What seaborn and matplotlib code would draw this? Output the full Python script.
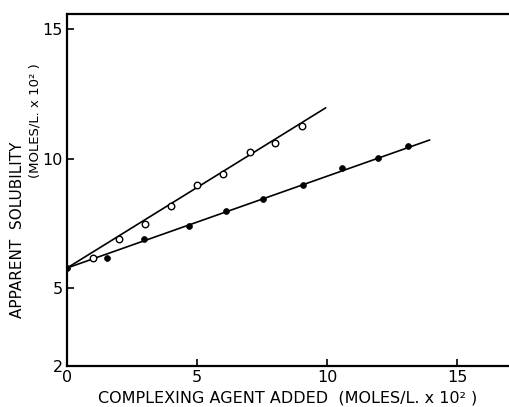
import matplotlib
matplotlib.use("Agg")
import matplotlib.pyplot as plt
import seaborn as sns
import pandas as pd

# Data (x: complexing agent added, y: apparent solubility)
open_x = [1.0, 2.0, 3.0, 4.0, 5.0, 6.0, 7.05, 8.0, 9.05]
open_y = [6.17, 6.90, 7.49, 8.19, 8.97, 9.40, 10.27, 10.61, 11.26]
filled_x = [0.0, 1.53, 2.96, 4.69, 6.12, 7.54, 9.08, 10.56, 11.97, 13.12]
filled_y = [5.78, 6.17, 6.89, 7.39, 7.99, 8.45, 8.97, 9.62, 10.01, 10.47]
line_open_x = [0.0, 9.95]
line_open_y = [5.78, 11.96]
line_filled_x = [0.0, 13.95]
line_filled_y = [5.78, 10.72]
x_ticks = [0, 5, 10, 15]
y_ticks = [2, 5, 10, 15]

sns.set_style("ticks")
plt.rcParams['font.family'] = ['DejaVu Sans']

fig = plt.figure(figsize=(5.09, 4.07), dpi=100)
ax = fig.add_axes([67 / 509, 1 - 366 / 407, 1 - 67 / 509, (366 - 14) / 407])

sns.lineplot(x=line_open_x, y=line_open_y, ax=ax, color="black", linewidth=1.2)
sns.lineplot(x=line_filled_x, y=line_filled_y, ax=ax, color="black", linewidth=1.2)

df_open = pd.DataFrame({"x": open_x, "y": open_y})
df_filled = pd.DataFrame({"x": filled_x, "y": filled_y})
sns.scatterplot(data=df_open, x="x", y="y", ax=ax, marker="o", s=22,
                facecolor="white", edgecolor="black", linewidth=1.0, zorder=3)
sns.scatterplot(data=df_filled, x="x", y="y", ax=ax, marker="o", s=18,
                color="black", edgecolor="black", linewidth=0.5, zorder=3)

ax.set_xlim(0, 17)
ax.set_ylim(2, 15.58)
ax.set_xticks(x_ticks)
ax.set_yticks(y_ticks)
ax.set_xticklabels([str(t) for t in x_ticks])
ax.set_yticklabels([str(t) for t in y_ticks])
ax.tick_params(direction="in", length=5, width=1.2, labelsize=11.5, pad=3,
               colors="black", labelcolor="black")
ax.tick_params(axis="x", pad=3)

for side in ["left", "bottom", "top"]:
    ax.spines[side].set_linewidth(1.6)
    ax.spines[side].set_color("black")
ax.spines["right"].set_visible(False)

ax.set_xlabel("")
ax.set_ylabel("")

fig.text(0.565, 1 - 398 / 407, "COMPLEXING AGENT ADDED  (MOLES/L. x 10\u00b2 )",
         ha="center", va="center", fontsize=11.5, color="black")
fig.text(18 / 509, 1 - 230 / 407, "APPARENT  SOLUBILITY",
         rotation=90, ha="center", va="center", fontsize=11, color="black")
fig.text(35 / 509, 1 - 121 / 407, "(MOLES/L. x 10\u00b2 )",
         rotation=90, ha="center", va="center", fontsize=9.5, color="black")

fig.savefig("out.png", dpi=100)
